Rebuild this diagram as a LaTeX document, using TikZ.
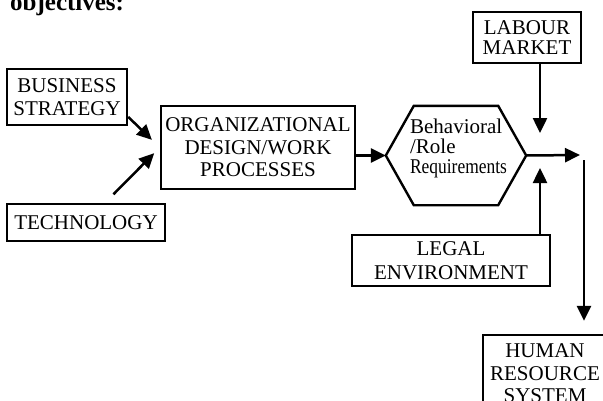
\documentclass[tikz,border=0pt]{standalone}
\usepackage{fontspec}
\setmainfont{Liberation Serif}
\usetikzlibrary{arrows.meta, positioning, calc}

\begin{document}
\begin{tikzpicture}[x=1pt, y=-1pt,
  box/.style={rectangle, draw=black, line width=2.4pt, inner sep=0pt, align=center,
              font=\fontsize{21}{22.5}\selectfont},
  arr/.style={-{Triangle[length=15pt, width=14pt]}, line width=2.5pt, black}
]
\useasboundingbox (0,0) rectangle (603,400);

\node[anchor=base west, inner sep=0pt, font=\bfseries\fontsize{25}{25}\selectfont] (obj) at (10,10) {objectives:};

\node[box, minimum width=120pt, minimum height=56pt] (bs) at (67,97) {BUSINESS\\STRATEGY};
\node[box, minimum width=158pt, minimum height=37pt] (tech) at (86,222.5) {TECHNOLOGY};
\node[box, minimum width=194pt, minimum height=83pt] (org) at (258,147.5) {ORGANIZATIONAL\\DESIGN/WORK\\PROCESSES};

% hexagon around the role box
\node[minimum width=140pt, minimum height=99pt, inner sep=0pt] (role) at (456,155.5) {};
\draw[line width=2.4pt] ($(role.north west)+(28,0)$) -- ($(role.north east)+(-28,0)$) -- (role.east)
  -- ($(role.south east)+(-28,0)$) -- ($(role.south west)+(28,0)$) -- (role.west) -- cycle;
\node[align=left, inner sep=0pt, font=\fontsize{21}{20}\selectfont] (roletxt) at ($(role)+(2.5,-7)$)
  {Behavioral\\/Role\\\scalebox{0.83}[1]{Requirements}};

\node[box, minimum width=108pt, minimum height=51pt, font=\fontsize{21}{20}\selectfont] (lab) at (527,37.5) {LABOUR\\MARKET};
\node[box, minimum width=198pt, minimum height=51pt, font=\fontsize{21}{24}\selectfont] (legal) at (451,260.5) {LEGAL\\ENVIRONMENT};
\node[box, minimum width=124pt, minimum height=77pt] (hrs) at (545,373.5) {HUMAN\\RESOURCE\\SYSTEM};

\coordinate (jn) at (580,155);
\coordinate (tipA) at (540,133);
\coordinate (tipB) at (540,168);
\coordinate (drop) at (584,160);

\draw[arr, shorten >=11pt] (bs.-18) -- (org.west);
\draw[arr, shorten <=12pt, shorten >=8pt] (tech.46) -- (org.west);
\draw[arr] (org.east |- role.west) -- (role.west);
\draw[arr] (role.east) -- (jn);
\draw[arr] (lab.south -| tipA) -- (tipA);
\draw[arr] (legal.north -| tipB) -- (tipB);
\draw[arr, shorten >=13pt] (drop) -- (hrs.north -| drop);
\end{tikzpicture}
\end{document}
